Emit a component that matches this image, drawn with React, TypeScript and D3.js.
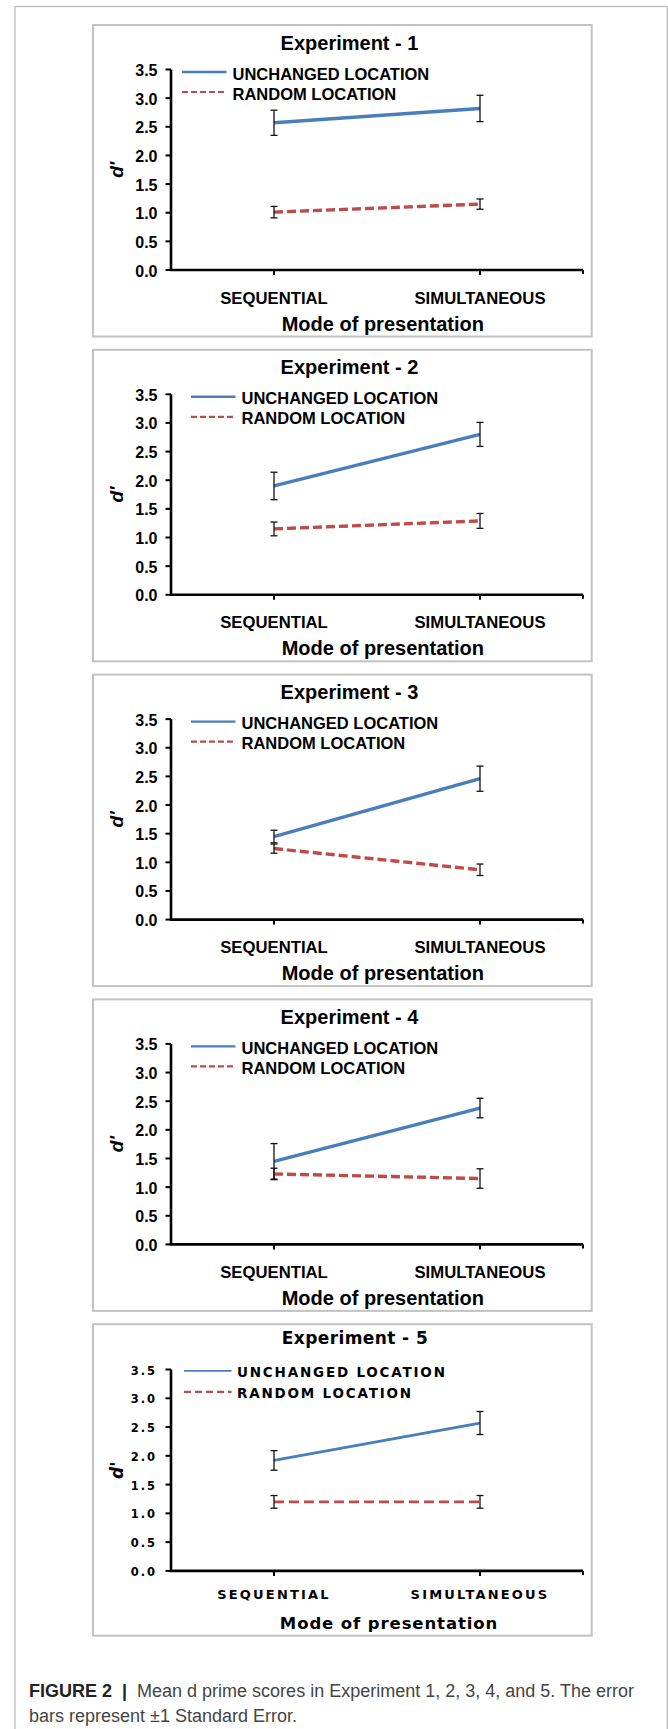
import React from "react";
import * as d3 from "d3";

// values
const categories = ["SEQUENTIAL", "SIMULTANEOUS"];
const experimentTitles = [
  "Experiment - 1",
  "Experiment - 2",
  "Experiment - 3",
  "Experiment - 4",
  "Experiment - 5",
];
const seriesNames = ["UNCHANGED LOCATION", "RANDOM LOCATION"];
const unchangedMeans = [
  [2.57, 2.82],
  [1.9, 2.8],
  [1.45, 2.46],
  [1.45, 2.38],
  [1.92, 2.57],
];
const unchangedSE = [
  [0.22, 0.23],
  [0.24, 0.21],
  [0.11, 0.22],
  [0.31, 0.17],
  [0.17, 0.2],
];
const randomMeans = [
  [1.01, 1.15],
  [1.15, 1.29],
  [1.24, 0.87],
  [1.23, 1.15],
  [1.2, 1.2],
];
const randomSE = [
  [0.1, 0.09],
  [0.12, 0.13],
  [0.08, 0.1],
  [0.1, 0.17],
  [0.11, 0.11],
];
const yTickValues = [0, 0.5, 1, 1.5, 2, 2.5, 3, 3.5];
const captionBold = "FIGURE 2  |  ";
const captionLine1 = "Mean d prime scores in Experiment 1, 2, 3, 4, and 5. The error";
const captionLine2 = "bars represent ±1 Standard Error.";

const W = 668;
const H = 1729;
const BLUE = "#4a7ebb";
const RED = "#be4b48";

const classic = {
  font: "'Liberation Sans', Arial, sans-serif",
  titleSize: 20, titleLs: 0, titleX: 349.5, titleY: 24.5,
  legendSize: 16.5, legendLs: 0, legendTextDy: 7.5,
  legendX1: 191, legendX2: 235.5, legendTextX: 241.5,
  legendY1: 47, legendY2: 67,
  legendBlueW: 2.4, legendRedW: 2.2, legendDash: "6,3",
  tickSize: 16, tickLs: 0, tickX: 157.5, tickDy: 6.5,
  catSize: 16.7, catLs: 0, catY: 278.5,
  axisTitleSize: 20, axisTitleLs: 0, axisTitleX: 382.8, axisTitleY: 305.5,
  dSize: 19,
  yTop: 44.5, yBottom: 245,
  lineW: 3.4, dash: "9,4",
};

const fifth = {
  ...classic,
  font: "'DejaVu Sans', Verdana, sans-serif",
  titleSize: 17, titleLs: 0.4, titleX: 355, titleY: 20,
  legendSize: 13.5, legendLs: 1.8, legendTextDy: 6,
  legendX1: 184, legendX2: 231.5, legendTextX: 237,
  legendY1: 46.7, legendY2: 67.7,
  legendBlueW: 1.6, legendRedW: 2.4, legendDash: "7,4",
  tickSize: 11.5, tickLs: 2, tickX: 157, tickDy: 5,
  catSize: 13, catLs: 2.2, catY: 274.3,
  axisTitleSize: 16.5, axisTitleLs: 0.9, axisTitleX: 389, axisTitleY: 304.3,
  dSize: 17,
  yTop: 45.3, yBottom: 246.7,
  lineW: 2.8, dash: "10,5",
};

type St = typeof classic;

function Panel({ idx, top, st }: { idx: number; top: number; st: St }) {
  const x = d3.scalePoint<string>().domain(categories).range([171, 583]).padding(0.5);
  const y = d3.scaleLinear().domain([0, 3.5]).range([top + st.yBottom, top + st.yTop]);
  const line = d3
    .line<number>()
    .x((_, i) => x(categories[i]) as number)
    .y((d) => y(d));

  const legendShift = idx === 0 ? -9 : 0;
  const series = [
    { means: unchangedMeans[idx], se: unchangedSE[idx], color: BLUE, dash: undefined as string | undefined },
    { means: randomMeans[idx], se: randomSE[idx], color: RED, dash: st.dash },
  ];

  return (
    <g fontFamily={st.font} fontWeight="bold" fill="#000">
      <rect x={93} y={top} width={498.7} height={311.5} fill="#fff" stroke="#c2c2c2" strokeWidth={2} />
      <text x={st.titleX} y={top + st.titleY} textAnchor="middle" fontSize={st.titleSize} letterSpacing={st.titleLs}>
        {experimentTitles[idx]}
      </text>

      {/* y axis */}
      <line x1={171} x2={171} y1={y(3.5)} y2={y(0)} stroke="#000" strokeWidth={2.6} />
      {yTickValues.map((v) => (
        <g key={v}>
          <line x1={165.5} x2={171} y1={y(v)} y2={y(v)} stroke="#000" strokeWidth={2} />
          <text x={st.tickX} y={y(v) + st.tickDy} textAnchor="end" fontSize={st.tickSize} letterSpacing={st.tickLs}>
            {d3.format(".1f")(v)}
          </text>
        </g>
      ))}
      <text
        transform={`translate(122.5,${(y(0) + y(3.5)) / 2}) rotate(-90)`}
        textAnchor="middle"
        fontSize={st.dSize}
        fontStyle="italic"
      >
        d'
      </text>

      {/* x axis */}
      <line x1={170} x2={583} y1={y(0)} y2={y(0)} stroke="#000" strokeWidth={2.6} />
      {categories.map((c) => (
        <g key={c}>
          <line x1={x(c)} x2={x(c)} y1={y(0)} y2={y(0) + 5} stroke="#000" strokeWidth={2} />
          <text x={x(c)} y={top + st.catY} textAnchor="middle" fontSize={st.catSize} letterSpacing={st.catLs}>
            {c}
          </text>
        </g>
      ))}
      <line x1={583} x2={583} y1={y(0)} y2={y(0) + 4} stroke="#000" strokeWidth={2} />
      <text x={st.axisTitleX} y={top + st.axisTitleY} textAnchor="middle" fontSize={st.axisTitleSize} letterSpacing={st.axisTitleLs}>
        Mode of presentation
      </text>

      {/* series */}
      {series.map((s, si) => (
        <g key={si}>
          <path d={line(s.means) || ""} fill="none" stroke={s.color} strokeWidth={st.lineW} strokeDasharray={s.dash} />
          {s.means.map((m, i) => {
            const cx = x(categories[i]) as number;
            const y1 = y(m + s.se[i]);
            const y2 = y(m - s.se[i]);
            return (
              <g key={i} stroke="#111" strokeWidth={1.3}>
                <line x1={cx} x2={cx} y1={y1} y2={y2} />
                <line x1={cx - 3.5} x2={cx + 3.5} y1={y1} y2={y1} />
                <line x1={cx - 3.5} x2={cx + 3.5} y1={y2} y2={y2} />
              </g>
            );
          })}
        </g>
      ))}

      {/* legend */}
      <line
        x1={st.legendX1 + legendShift} x2={st.legendX2 + legendShift}
        y1={top + st.legendY1} y2={top + st.legendY1}
        stroke={BLUE} strokeWidth={st.legendBlueW}
      />
      <line
        x1={st.legendX1 + legendShift} x2={st.legendX2 + legendShift}
        y1={top + st.legendY2} y2={top + st.legendY2}
        stroke={RED} strokeWidth={st.legendRedW} strokeDasharray={st.legendDash}
      />
      {seriesNames.map((n, i) => (
        <text
          key={n}
          x={st.legendTextX + legendShift}
          y={top + (i === 0 ? st.legendY1 : st.legendY2) + st.legendTextDy}
          fontSize={st.legendSize}
          letterSpacing={st.legendLs}
        >
          {n}
        </text>
      ))}
    </g>
  );
}

export default function App() {
  return (
    <svg
      width={W}
      height={H}
      style={{ position: "absolute", left: 0, top: 0, display: "block", background: "#fff" }}
    >
      <rect x={0} y={0} width={W} height={H} fill="#fff" />
      <rect x={15} y={6.5} width={652.3} height={H} fill="none" stroke="#b8b8b8" strokeWidth={1.2} />
      {experimentTitles.map((t, i) => (
        <Panel key={t} idx={i} top={25 + i * 324.8} st={i === 4 ? fifth : classic} />
      ))}
      <text x={29} y={1697.3} fontFamily="'Liberation Sans', Arial, sans-serif" fontSize={18} fill="#444" style={{ whiteSpace: "pre" }}>
        <tspan fontWeight="bold" fill="#222">{captionBold}</tspan>
        <tspan>{captionLine1}</tspan>
      </text>
      <text x={29} y={1721.7} fontFamily="'Liberation Sans', Arial, sans-serif" fontSize={18} fill="#444">
        {captionLine2}
      </text>
    </svg>
  );
}
